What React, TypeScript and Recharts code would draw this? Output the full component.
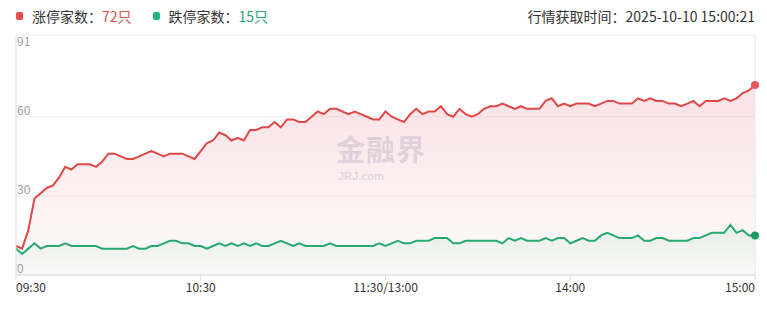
import {
  ComposedChart,
  Area,
  Line,
  XAxis,
  YAxis,
  CartesianGrid,
  ReferenceLine,
} from "recharts";

// one sample every 2 minutes, 09:30 -> 11:30 | 13:00 -> 15:00
const limitUp = [
  11, 10, 17, 29, 31, 33, 34, 37, 41, 40, 42, 42, 42, 41, 43, 46, 46, 45, 44, 44,
  45, 46, 47, 46, 45, 46, 46, 46, 45, 44, 47, 50, 51, 54, 53, 51, 52, 51, 55, 55,
  56, 56, 58, 56, 59, 59, 58, 58, 60, 62, 61, 63, 63, 62, 61, 62, 61, 60, 59, 59,
  62, 60, 59, 58, 61, 63, 61, 62, 62, 64, 61, 60, 63, 61, 60, 61, 63, 64, 64, 65,
  64, 63, 64, 63, 63, 63, 66, 67, 64, 65, 64, 65, 65, 65, 64, 65, 66, 66, 65, 65,
  65, 67, 66, 67, 66, 66, 65, 65, 64, 65, 66, 64, 66, 66, 66, 67, 66, 67, 69, 70,
  72,
];

const limitDown = [
  10, 8, 10, 12, 10, 11, 11, 11, 12, 11, 11, 11, 11, 11, 10, 10, 10, 10, 10, 11,
  10, 10, 11, 11, 12, 13, 13, 12, 12, 11, 11, 10, 11, 12, 11, 12, 11, 12, 11, 12,
  11, 11, 12, 13, 12, 11, 12, 11, 11, 11, 11, 12, 11, 11, 11, 11, 11, 11, 11, 12,
  11, 12, 13, 12, 12, 13, 13, 13, 14, 14, 14, 12, 12, 13, 13, 13, 13, 13, 13, 12,
  14, 13, 14, 13, 13, 13, 14, 13, 14, 14, 12, 13, 14, 13, 13, 15, 16, 15, 14, 14,
  14, 15, 13, 13, 14, 14, 13, 13, 13, 13, 14, 14, 15, 16, 16, 16, 19, 16, 17, 15,
  15,
];

const xTicks = ["09:30", "10:30", "11:30/13:00", "14:00", "15:00"];
const yTicks = [0, 30, 60, 91];

const pad = (n: number) => String(n).padStart(2, "0");
const times = limitUp.map((_, k) => {
  const m = k * 2;
  if (m === 120) return "11:30/13:00";
  const t = m < 120 ? 570 + m : 780 + (m - 120);
  return `${pad(Math.floor(t / 60))}:${pad(t % 60)}`;
});

const data = times.map((time, i) => ({
  time,
  up: limitUp[i],
  down: limitDown[i],
}));

const RED = "#e04848";
const GREEN = "#28a972";
const FONT = '"Noto Sans CJK SC", "Noto Sans", sans-serif';
const PLOT_LEFT = 16;
const last = data.length - 1;

const XTick = (props: any) => {
  const { x, y, payload } = props;
  const v = payload.value;
  const anchor = v === "09:30" ? "start" : v === "15:00" ? "end" : "middle";
  return (
    <text x={x} y={y} dy="0.71em" textAnchor={anchor} fill="#333" fontSize={12} fontFamily={FONT}>
      {v}
    </text>
  );
};

const YTick = (props: any) => {
  const { y, payload } = props;
  const ty = payload.value === 91 ? y + 11 : y - 2;
  return (
    <text x={PLOT_LEFT + 1} y={ty} textAnchor="start" fill="#a0a0a0" fontSize={12} fontFamily={FONT}>
      {payload.value}
    </text>
  );
};

const endDot = (color: string) => (p: any) =>
  p.index === last ? (
    <circle key={`d${p.index}`} cx={p.cx} cy={p.cy} r={4} fill={color} />
  ) : (
    <g key={`d${p.index}`} />
  );

export default function App() {
  return (
    <div
      style={{
        position: "absolute",
        left: 0,
        top: 0,
        width: 767,
        height: 318,
        background: "#fff",
        fontFamily: FONT,
      }}
    >
      <div style={{ position: "absolute", left: 16, top: 6, height: 20, display: "flex", alignItems: "center", fontSize: 14, color: "#333" }}>
        <span style={{ width: 7, height: 8, borderRadius: 2, background: "#e84c4c", marginRight: 9 }} />
        <span>涨停家数：</span>
        <span style={{ color: "#d9534f" }}>72只</span>
        <span style={{ width: 7, height: 8, borderRadius: 2, background: "#27b47a", marginLeft: 21, marginRight: 9 }} />
        <span>跌停家数：</span>
        <span style={{ color: "#2aa56f" }}>15只</span>
      </div>
      <div style={{ position: "absolute", right: 12, top: 6, height: 20, display: "flex", alignItems: "center", fontSize: 14, color: "#333" }}>
        行情获取时间：2025-10-10 15:00:21
      </div>

      <ComposedChart
        width={767}
        height={318}
        data={data}
        margin={{ top: 35, right: 12, left: PLOT_LEFT - 1, bottom: 13 }}
        style={{ position: "absolute", left: 0, top: 0 }}
      >
        <defs>
          <linearGradient id="gUp" x1="0" y1="0" x2="0" y2="1">
            <stop offset="0%" stopColor="rgb(222,70,95)" stopOpacity={0.27} />
            <stop offset="100%" stopColor="rgb(222,70,95)" stopOpacity={0.03} />
          </linearGradient>
          <linearGradient id="gDown" x1="0" y1="0" x2="0" y2="1">
            <stop offset="0%" stopColor="rgb(40,170,110)" stopOpacity={0.18} />
            <stop offset="100%" stopColor="rgb(40,170,110)" stopOpacity={0.03} />
          </linearGradient>
        </defs>
        <CartesianGrid stroke="#eeeeee" vertical={false} />
        <XAxis
          dataKey="time"
          ticks={xTicks}
          interval={0}
          height={30}
          tick={<XTick />}
          tickSize={5}
          tickMargin={3}
          stroke="#dcdcdc"
        />
        <YAxis
          domain={[0, 91]}
          ticks={yTicks}
          width={1}
          tick={<YTick />}
          tickLine={false}
          stroke="#dcdcdc"
          allowDataOverflow
        />
        <ReferenceLine x="15:00" stroke="#e6e6e6" />
        <Area type="linear" dataKey="up" stroke="none" fill="url(#gUp)" isAnimationActive={false} />
        <Area type="linear" dataKey="down" stroke="none" fill="url(#gDown)" isAnimationActive={false} />
        <Line type="linear" dataKey="up" stroke={RED} strokeWidth={2} dot={endDot("#e85858")} activeDot={false} isAnimationActive={false} />
        <Line type="linear" dataKey="down" stroke={GREEN} strokeWidth={2} dot={endDot("#1f9a5e")} activeDot={false} isAnimationActive={false} />
      </ComposedChart>

      {/* watermark */}
      <div style={{ position: "absolute", left: 336, top: 127, pointerEvents: "none", color: "rgba(110,100,140,0.2)", fontWeight: 700, fontSize: 29, lineHeight: "normal", letterSpacing: 1 }}>
        金融界
      </div>
      <div style={{ position: "absolute", left: 338, top: 170, pointerEvents: "none", color: "rgba(110,100,140,0.2)", fontWeight: 700, fontSize: 11, lineHeight: "12px", fontFamily: "Arial, sans-serif" }}>
        JRJ.com
      </div>
    </div>
  );
}
